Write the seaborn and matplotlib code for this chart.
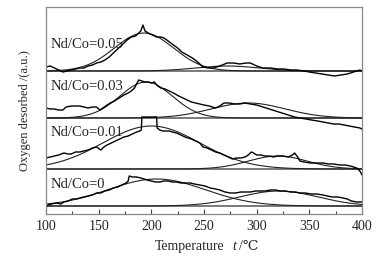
import numpy as np
import pandas as pd
import matplotlib
matplotlib.use("Agg")
import matplotlib.pyplot as plt
import seaborn as sns
from matplotlib.ticker import MultipleLocator

# ---------------- data ----------------
labels = ["Nd/Co=0.05", "Nd/Co=0.03", "Nd/Co=0.01", "Nd/Co=0"]

# experimental curves: temperature (°C) and signal above the curve's own baseline (a.u.)
t_005 = [100,104,108,112,116,120,124,128,132,136,140,144,148,152,156,160,164,168,172,177,181,185,188,190,192,194,197,201,205,209,212,216,221,225,229,234,239,244,249,254,259,265,272,278,284,290,294,300,306,313,320,326,332,338,345,350,356,362,368,374,380,386,392,398,400]
s_005 = [4,5,3,1,-1,0,1,2,3,3,5,6,8,9,11,14,18,22,26,31,34,35,38,40,46,40,38,36,34,34,33,30,26,23,19,16,13,9,4,3,3,5,8,8,7,8,8,5,3,3,2,2,1,1,0,-1,-2,-3,-4,-5,-4,-3,-1,1,0]

t_003 = [100,104,108,112,116,119,124,128,132,136,140,144,148,151,154,158,161,165,168,171,174,178,181,184,186,188,191,194,197,200,203,206,209,213,217,221,226,230,234,238,242,246,250,255,261,265,269,274,279,284,289,294,300,306,312,318,324,330,336,341,347,352,358,363,368,373,378,383,388,393,398,400]
s_003 = [10,9,9,8,8,11,12,12,12,11,10,11,11,8,10,13,15,17,19,21,23,25,27,30,34,38,37,36,36,35,36,32,30,29,27,25,22,20,18,16,15,14,13,12,10,12,15,15,14,14,15,14,13,11,9,7,5,3,1,0,-1,-2,-3,-4,-5,-6,-6,-7,-8,-9,-10,-11]

t_001 = [100,104,108,112,117,121,124,128,132,136,140,144,148,152,155,158,162,166,170,174,178,182,186,189,190.5,191,198,205,205.5,208,211,214,217,220,224,228,232,235,238,242,246,249,253,257,261,265,269,273,277,281,285,289,292,295,297,300,304,308,312,316,320,325,330,334,336,339,341,345,351,357,363,368,373,379,384,389,392,395,398,400]
s_001 = [11,12,13,14,16,15,15,17,17,18,19,21,22,19,22,24,26,28,30,32,33,35,37,38,39,52,52,52,41,39,38,38,38,37,36,34,32,31,30,28,26,22,21,19,17,16,14,12,10,11,11,12,14,17,16,14,14,13,13,12,13,13,12,14,16,12,8,7,6,6,6,5,5,4,4,3,2,1,-2,-6]

t_0 = [100,102,105,110,114,117,121,125,129,132,136,140,144,148,152,156,160,164,168,172,176,178,179,182,186,190,193,196,200,204,208,212,216,220,224,228,232,237,241,246,251,256,261,265,270,275,280,285,290,294,299,303,308,313,318,322,327,332,337,341,346,352,357,363,367,372,377,382,386,390,395,398,400]
s_0 = [-1,1,2,3,2,4,5,7,7,8,9,10,11,13,13,15,16,18,19,21,23,25,30,29,29,28,27,26,25,24,24,25,25,24,24,23,23,23,22,21,20,18,17,16,14,13,13,14,14,14,15,15,15,16,16,15,15,14,14,13,13,12,12,11,10,9,9,8,7,5,4,4,4]

# fitted Gaussian components: centre (°C), height (a.u.), width sigma (°C)
fit_centre = {"Nd/Co=0.05": [193, 272], "Nd/Co=0.03": [195, 292],
              "Nd/Co=0.01": [200, 320], "Nd/Co=0": [205, 321]}
fit_height = {"Nd/Co=0.05": [38, 5], "Nd/Co=0.03": [36, 15],
              "Nd/Co=0.01": [43, 13], "Nd/Co=0": [27, 15]}
fit_sigma = {"Nd/Co=0.05": [28, 30], "Nd/Co=0.03": [25, 35],
             "Nd/Co=0.01": [46, 28], "Nd/Co=0": [46, 37]}

x_ticks = [100, 150, 200, 250, 300, 350, 400]

# ---------------- layout (vertical stacking offsets) ----------------
offsets = {"Nd/Co=0.05": 143, "Nd/Co=0.03": 96, "Nd/Co=0.01": 45, "Nd/Co=0": 8}
label_y = {"Nd/Co=0.05": 170, "Nd/Co=0.03": 127, "Nd/Co=0.01": 82, "Nd/Co=0": 29}

exp_t = {"Nd/Co=0.05": t_005, "Nd/Co=0.03": t_003, "Nd/Co=0.01": t_001, "Nd/Co=0": t_0}
exp_s = {"Nd/Co=0.05": s_005, "Nd/Co=0.03": s_003, "Nd/Co=0.01": s_001, "Nd/Co=0": s_0}

rows_exp, rows_fit, rows_base = [], [], []
grid = np.linspace(100, 400, 301)
for lab in labels:
    off = offsets[lab]
    for t, s in zip(exp_t[lab], exp_s[lab]):
        rows_exp.append({"T": t, "y": off + s, "curve": lab})
    for k, (c, h, w) in enumerate(zip(fit_centre[lab], fit_height[lab], fit_sigma[lab])):
        g = h * np.exp(-(grid - c) ** 2 / (2 * w ** 2))
        for t, v in zip(grid, g):
            rows_fit.append({"T": t, "y": off + v, "curve": f"{lab}-{k}"})
    for t in (x_ticks[0], x_ticks[-1]):
        rows_base.append({"T": t, "y": off, "curve": lab})

df_exp = pd.DataFrame(rows_exp)
df_fit = pd.DataFrame(rows_fit)
df_base = pd.DataFrame(rows_base)

sns.set_style("ticks")
serif = ["Liberation Serif", "DejaVu Serif", "DejaVu Sans"]
plt.rcParams["font.family"] = serif

fig = plt.figure(figsize=(3.89, 2.58), dpi=100)
ax = fig.add_axes([46 / 389, 44 / 258, 316 / 389, 207 / 258])

sns.lineplot(data=df_base, x="T", y="y", units="curve", estimator=None, sort=False,
             color="#555555", lw=1.1, ax=ax, legend=False)
sns.lineplot(data=df_fit, x="T", y="y", units="curve", estimator=None, sort=False,
             color="#222222", lw=0.8, ax=ax, legend=False)
sns.lineplot(data=df_exp, x="T", y="y", units="curve", estimator=None, sort=False,
             color="black", lw=1.0, ax=ax, legend=False)

for lab in labels:
    ax.text(104.5, label_y[lab], lab, fontsize=10.5, va="center", ha="left")

ax.set_xlim(100, 400)
ax.set_ylim(0, 207)
ax.set_xticks(x_ticks)
ax.set_xticklabels([str(v) for v in x_ticks])
ax.xaxis.set_minor_locator(MultipleLocator(25))
ax.set_yticks([])
ax.tick_params(axis="x", which="major", direction="in", length=3.5, width=0.8,
               labelsize=10, pad=4, color="#444444")
ax.tick_params(axis="x", which="minor", direction="in", length=2, width=0.8, color="#444444")

for sp in ax.spines.values():
    sp.set_color("#888888")
    sp.set_linewidth(0.9)

ax.set_xlabel("Temperature", fontsize=10)
ax.xaxis.set_label_coords(0.456, -0.125)
ax.text(0.590, -0.125, "t", transform=ax.transAxes, fontsize=10, style="italic",
        va="top", ha="left")
ax.text(0.610, -0.125, "/\u2103", transform=ax.transAxes, fontsize=10,
        va="top", ha="left", family=serif)
ax.set_ylabel("Oxygen desorbed /(a.u.)", fontsize=9)
ax.yaxis.set_label_coords(-0.047, 0.498)

fig.savefig("out.png", dpi=100)
